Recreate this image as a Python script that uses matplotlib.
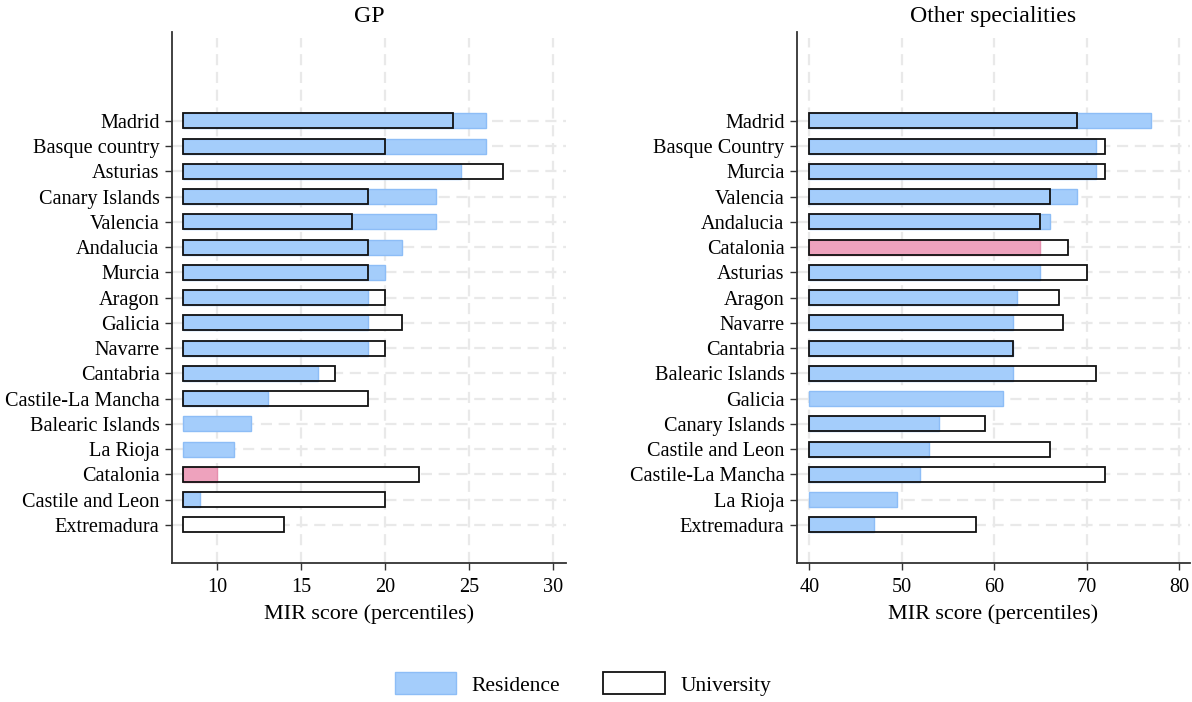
import matplotlib
matplotlib.use("Agg")
import matplotlib.pyplot as plt
from matplotlib.patches import Patch

plt.rcParams['font.family'] = ['Liberation Serif', 'DejaVu Serif']

# ---- data ----
gp_regions = ["Madrid", "Basque country", "Asturias", "Canary Islands", "Valencia",
              "Andalucia", "Murcia", "Aragon", "Galicia", "Navarre", "Cantabria",
              "Castile-La Mancha", "Balearic Islands", "La Rioja", "Catalonia",
              "Castile and Leon", "Extremadura"]
gp_residence = [26, 26, 24.5, 23, 23, 21, 20, 19, 19, 19, 16, 13, 12, 11, 10, 9, None]
gp_university = [24, 20, 27, 19, 18, 19, 19, 20, 21, 20, 17, 19, None, None, 22, 20, 14]
gp_base = 8

ot_regions = ["Madrid", "Basque Country", "Murcia", "Valencia", "Andalucia",
              "Catalonia", "Asturias", "Aragon", "Navarre", "Cantabria",
              "Balearic Islands", "Galicia", "Canary Islands", "Castile and Leon",
              "Castile-La Mancha", "La Rioja", "Extremadura"]
ot_residence = [77, 71, 71, 69, 66, 65, 65, 62.5, 62, 62, 62, 61, 54, 53, 52, 49.5, 47]
ot_university = [69, 72, 72, 66, 65, 68, 70, 67, 67.5, 62, 71, None, 59, 66, 72, None, 58]
ot_base = 40

gp_ticks = [10, 15, 20, 25, 30]
ot_ticks = [40, 50, 60, 70, 80]

BLUE = "#a4cdfb"
BLUE_EDGE = "#8dbdf6"
PINK = "#eea2bd"
PINK_EDGE = "#e58fae"
GRID = "#e9e9e9"
FS = 14.6
FS_LABEL = 15.9
FS_TITLE = 17.2
FS_LEG = 15.5

W, H = 1192, 702
fig = plt.figure(figsize=(W / 100, H / 100), dpi=100)


def px_axes(x0, x1, ytop, ybot):
    return fig.add_axes([x0 / W, 1 - ybot / H, (x1 - x0) / W, (ybot - ytop) / H])


def panel(ax, title, regions, res, uni, base, ticks, xlim):
    n = len(regions)
    pos = [n - 1 - i for i in range(n)]
    ax.set_xlim(*xlim)
    ax.set_ylim(-1.5, n + 2.52)
    # grid
    for t in ticks:
        ax.axvline(t, ymax=(n + 2.27 + 1.5) / (n + 4.02), color=GRID, lw=1.6,
                   ls=(0, (5, 3)), zorder=0)
    for p in pos:
        ax.axhline(p, color=GRID, lw=1.6, ls=(0, (5, 3)), zorder=0)
    h = 0.6
    for p, r, u, name in zip(pos, res, uni, regions):
        if u is not None:
            ax.barh(p, u - base, left=base, height=h, color="white",
                    edgecolor="none", zorder=2)
        if r is not None:
            fc, ec = (PINK, PINK_EDGE) if name == "Catalonia" else (BLUE, BLUE_EDGE)
            ax.barh(p, r - base, left=base, height=h, color=fc, edgecolor=ec,
                    linewidth=1.0, zorder=3)
        if u is not None:
            ax.barh(p, u - base, left=base, height=h, facecolor="none",
                    edgecolor="#111111", linewidth=1.3, zorder=4)
    ax.set_yticks(pos)
    ax.set_yticklabels(regions, fontsize=FS)
    ax.set_xticks(ticks)
    ax.set_xticklabels([str(t) for t in ticks], fontsize=FS)
    ax.tick_params(axis="both", length=5, width=1.0, color="#333333", pad=4)
    ax.tick_params(axis="x", pad=6)
    for s in ["top", "right"]:
        ax.spines[s].set_visible(False)
    for s in ["left", "bottom"]:
        ax.spines[s].set_color("#333333")
        ax.spines[s].set_linewidth(1.3)
    ax.set_xlabel("MIR score (percentiles)", fontsize=FS_LABEL, labelpad=5)
    ax.set_title(title, fontsize=FS_TITLE, pad=7)


ax1 = px_axes(172, 565.7, 32, 562.7)
panel(ax1, "GP", gp_regions, gp_residence, gp_university, gp_base, gp_ticks,
      (7.32, 30.73))
ax2 = px_axes(797, 1190, 32, 562.7)
panel(ax2, "Other specialities", ot_regions, ot_residence, ot_university, ot_base,
      ot_ticks, (38.67, 81.19))

handles = [Patch(facecolor=BLUE, edgecolor=BLUE_EDGE, linewidth=1.0),
           Patch(facecolor="white", edgecolor="#111111", linewidth=1.3)]
fig.legend(handles, ["Residence", "University"], loc="center",
           bbox_to_anchor=(583 / W, 1 - 684 / H), ncol=2, frameon=False,
           fontsize=FS_LEG, handlelength=2.84, handleheight=1.16,
           handletextpad=0.74, columnspacing=2.0)

fig.savefig("out.png", dpi=100)
